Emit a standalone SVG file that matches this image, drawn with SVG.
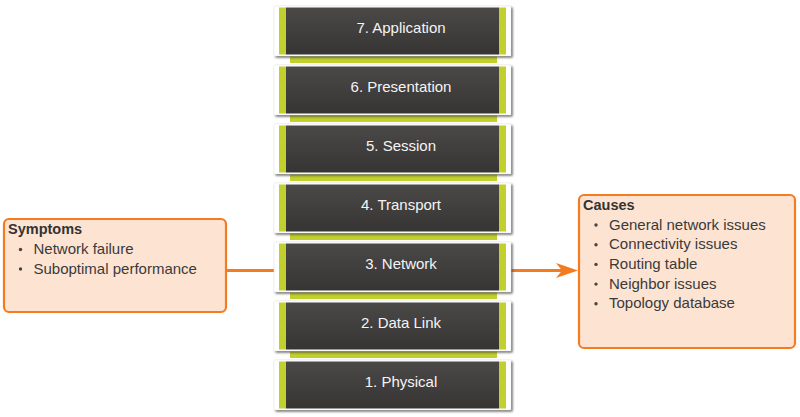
<svg xmlns="http://www.w3.org/2000/svg" width="800" height="417" viewBox="0 0 800 417">
<style>
.sh{fill:#3c3c3c;opacity:0.85}
.wb{fill:#ffffff;stroke:#e6e6e6;stroke-width:0.5}
.gr{fill:#c1d02c}
.dk{fill:url(#dg)}
.lt{font-family:"Liberation Sans",Arial,sans-serif;font-size:15px;fill:#f4f4f4;text-anchor:middle}
.box{fill:#fde4d2;stroke:#f47b20;stroke-width:2.2}
.hd{font-family:"Liberation Sans",Arial,sans-serif;font-size:14.5px;font-weight:bold;fill:#333333}
.it{font-family:"Liberation Sans",Arial,sans-serif;font-size:15px;fill:#3a3a3a}
.bu{fill:#444444}
.gap{fill:#c1d02c}
.gapt{fill:#8a8a6a}
.con{stroke:#f47b20;stroke-width:3;fill:none}
</style>
<defs>
<linearGradient id="dg" x1="0" y1="0" x2="0" y2="1">
<stop offset="0" stop-color="#4b4848"/>
<stop offset="1" stop-color="#373434"/>
</linearGradient>
<filter id="bl" x="-5%" y="-10%" width="110%" height="130%"><feGaussianBlur stdDeviation="0.8"/></filter>
</defs>
<rect width="800" height="417" fill="#ffffff"/>
<g id="gaps">
<rect class="gap" x="290" y="56" width="207" height="7"/>
<rect class="gap" x="290" y="115" width="207" height="7"/>
<rect class="gap" x="290" y="174" width="207" height="7"/>
<rect class="gap" x="290" y="233" width="207" height="7"/>
<rect class="gap" x="290" y="292" width="207" height="7"/>
<rect class="gap" x="290" y="351" width="207" height="7"/>
</g>
<g id="connectors">
<line class="con" x1="226" y1="270.5" x2="276" y2="270.5"/>
<line class="con" x1="509" y1="270.5" x2="562" y2="270.5"/>
<polygon points="578,270.5 556,263 562,270.5 556,278" fill="#f47b20"/>
</g>
<g id="layer7">
<rect class="sh" x="275.5" y="7.5" width="237" height="50" filter="url(#bl)"/>
<rect class="wb" x="274" y="6" width="237" height="50"/>
<rect class="gr" x="279" y="7.5" width="7" height="47"/>
<rect class="dk" x="286" y="7.5" width="213" height="47"/>
<rect class="gr" x="499" y="7.5" width="7" height="47"/>
<text class="lt" x="401" y="32.5">7. Application</text>
</g>
<g id="layer6">
<rect class="sh" x="275.5" y="66.5" width="237" height="50" filter="url(#bl)"/>
<rect class="wb" x="274" y="65" width="237" height="50"/>
<rect class="gr" x="279" y="66.5" width="7" height="47"/>
<rect class="dk" x="286" y="66.5" width="213" height="47"/>
<rect class="gr" x="499" y="66.5" width="7" height="47"/>
<text class="lt" x="401" y="91.5">6. Presentation</text>
</g>
<g id="layer5">
<rect class="sh" x="275.5" y="125.5" width="237" height="50" filter="url(#bl)"/>
<rect class="wb" x="274" y="124" width="237" height="50"/>
<rect class="gr" x="279" y="125.5" width="7" height="47"/>
<rect class="dk" x="286" y="125.5" width="213" height="47"/>
<rect class="gr" x="499" y="125.5" width="7" height="47"/>
<text class="lt" x="401" y="150.5">5. Session</text>
</g>
<g id="layer4">
<rect class="sh" x="275.5" y="184.5" width="237" height="50" filter="url(#bl)"/>
<rect class="wb" x="274" y="183" width="237" height="50"/>
<rect class="gr" x="279" y="184.5" width="7" height="47"/>
<rect class="dk" x="286" y="184.5" width="213" height="47"/>
<rect class="gr" x="499" y="184.5" width="7" height="47"/>
<text class="lt" x="401" y="209.5">4. Transport</text>
</g>
<g id="layer3">
<rect class="sh" x="275.5" y="243.5" width="237" height="50" filter="url(#bl)"/>
<rect class="wb" x="274" y="242" width="237" height="50"/>
<rect class="gr" x="279" y="243.5" width="7" height="47"/>
<rect class="dk" x="286" y="243.5" width="213" height="47"/>
<rect class="gr" x="499" y="243.5" width="7" height="47"/>
<text class="lt" x="401" y="268.5">3. Network</text>
</g>
<g id="layer2">
<rect class="sh" x="275.5" y="302.5" width="237" height="50" filter="url(#bl)"/>
<rect class="wb" x="274" y="301" width="237" height="50"/>
<rect class="gr" x="279" y="302.5" width="7" height="47"/>
<rect class="dk" x="286" y="302.5" width="213" height="47"/>
<rect class="gr" x="499" y="302.5" width="7" height="47"/>
<text class="lt" x="401" y="327.5">2. Data Link</text>
</g>
<g id="layer1">
<rect class="sh" x="275.5" y="361.5" width="237" height="50" filter="url(#bl)"/>
<rect class="wb" x="274" y="360" width="237" height="50"/>
<rect class="gr" x="279" y="361.5" width="7" height="47"/>
<rect class="dk" x="286" y="361.5" width="213" height="47"/>
<rect class="gr" x="499" y="361.5" width="7" height="47"/>
<text class="lt" x="401" y="386.5">1. Physical</text>
</g>
<g id="symptoms">
<rect class="box" x="4" y="219" width="222" height="93" rx="5"/>
<text class="hd" x="8" y="233.5">Symptoms</text>
<circle class="bu" cx="20.5" cy="249.5" r="1.7"/>
<text class="it" x="33.5" y="254">Network failure</text>
<circle class="bu" cx="20.5" cy="269" r="1.7"/>
<text class="it" x="33.5" y="273.5">Suboptimal performance</text>
</g>
<g id="causes">
<rect class="box" x="579" y="195" width="216" height="153" rx="5"/>
<text class="hd" x="583" y="210">Causes</text>
<circle class="bu" cx="596" cy="225" r="1.7"/>
<text class="it" x="609" y="229.5">General network issues</text>
<circle class="bu" cx="596" cy="244.7" r="1.7"/>
<text class="it" x="609" y="249.2">Connectivity issues</text>
<circle class="bu" cx="596" cy="264.4" r="1.7"/>
<text class="it" x="609" y="268.9">Routing table</text>
<circle class="bu" cx="596" cy="284.1" r="1.7"/>
<text class="it" x="609" y="288.6">Neighbor issues</text>
<circle class="bu" cx="596" cy="303.8" r="1.7"/>
<text class="it" x="609" y="308.3">Topology database</text>
</g>
</svg>
